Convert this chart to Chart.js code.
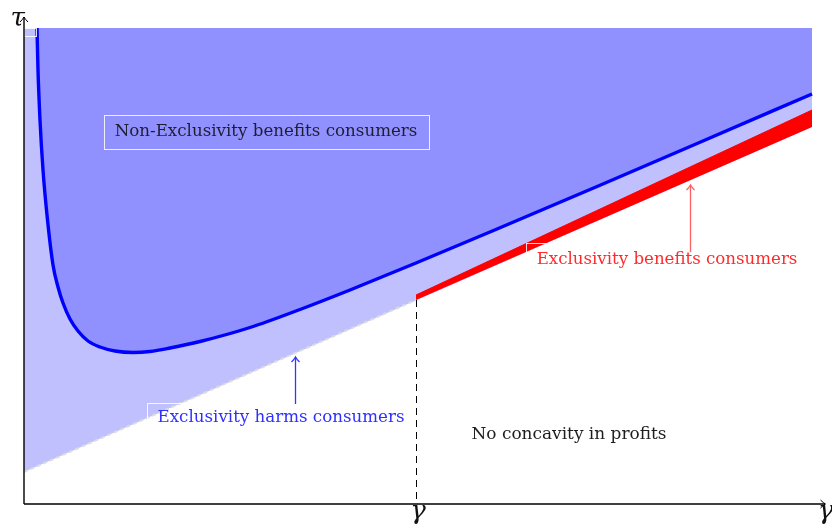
<!DOCTYPE html>
<html>
<head>
<meta charset="utf-8">
<script src="https://cdn.jsdelivr.net/npm/chart.js@4/dist/chart.umd.min.js"></script>
<style>
html,body{margin:0;padding:0;background:#fff;}
#wrap{width:832px;height:528px;}
</style>
</head>
<body>
<div id="wrap"><canvas id="c" width="832" height="528"></canvas></div>
<script>
// ---- axis ranges (data units) ----
const xMax = 8.0;
const yMax = 4.9;
const shadeTop = 4.76;     // upper edge of shaded area
const shadeRight = 7.88;   // right edge of shaded area
const gammaBar = 3.92;     // position of the threshold γ on the horizontal axis

// ---- boundary of the "no concavity" region (straight line) ----
const lowerLineX = [0, 7.88];
const lowerLineY = [0.32, 3.77];

// ---- red band (Exclusivity benefits consumers) ----
const redLowerX = [3.92, 7.88];
const redLowerY = [2.04, 3.77];
const redUpperX = [3.92, 7.88];
const redUpperY = [2.09, 3.94];

// ---- blue boundary curve ----
const curveX = [0.13, 0.14, 0.16, 0.19, 0.23, 0.29, 0.34, 0.39, 0.46, 0.54, 0.64, 0.76, 0.91, 1.09, 1.26, 1.46, 1.76, 2.26, 2.76, 3.26, 3.92, 4.76, 5.76, 6.76, 7.88];
const curveY = [4.76, 4.34, 3.84, 3.34, 2.89, 2.39, 2.17, 2.01, 1.85, 1.73, 1.63, 1.57, 1.53, 1.515, 1.525, 1.56, 1.625, 1.765, 1.945, 2.14, 2.41, 2.763, 3.188, 3.618, 4.10];

// ---- annotation texts ----
const labelNonExcl = "Non-Exclusivity benefits consumers";
const labelHarms = "Exclusivity harms consumers";
const labelBenefits = "Exclusivity benefits consumers";
const labelNoConc = "No concavity in profits";
const axisLabelY = "τ";
const axisLabelX = "γ";
const tickLabelBar = "γ";

const pts = (xs, ys) => xs.map((x, i) => ({x: x, y: ys[i]}));

const datasets = [
  { // blue curve with dark-blue fill above
    data: pts(curveX, curveY),
    borderColor: '#0000ff', borderWidth: 3.4,
    backgroundColor: '#9090ff',
    fill: {value: shadeTop},
    cubicInterpolationMode: 'monotone',
    pointRadius: 0, order: 1
  },
  { // red band lower edge (fill target)
    data: pts(redLowerX, redLowerY),
    borderWidth: 0, borderColor: 'rgba(0,0,0,0)',
    fill: false, pointRadius: 0, order: 3
  },
  { // red band upper edge
    data: pts(redUpperX, redUpperY),
    borderWidth: 1, borderColor: '#ff0000',
    backgroundColor: '#ff0000',
    fill: 1, pointRadius: 0, order: 2
  },
  { // grey fringe along the boundary left of gammaBar
    data: pts([lowerLineX[0], redLowerX[0]], [lowerLineY[0], redLowerY[0]]),
    borderColor: '#dcdcdc', borderWidth: 2, borderDash: [4, 3],
    fill: false, pointRadius: 0, order: 4
  },
  { // light blue region
    data: pts(lowerLineX, lowerLineY),
    borderWidth: 0, borderColor: 'rgba(0,0,0,0)',
    backgroundColor: '#c0c0ff',
    fill: {value: shadeTop}, pointRadius: 0, order: 5
  }
];

function fitFont(ctx, text, width, family, style) {
  ctx.font = (style || '') + ' 20px ' + family;
  const w = ctx.measureText(text).width;
  const size = 20 * width / w;
  return (style || '') + ' ' + size.toFixed(2) + 'px ' + family;
}

function arrowHead(ctx, x, y, dir) {
  ctx.beginPath();
  if (dir === 'up') {
    ctx.moveTo(x - 4, y + 5); ctx.quadraticCurveTo(x - 1, y + 2, x, y);
    ctx.quadraticCurveTo(x + 1, y + 2, x + 4, y + 5);
  } else {
    ctx.moveTo(x - 5, y - 4); ctx.quadraticCurveTo(x - 2, y - 1, x, y);
    ctx.quadraticCurveTo(x - 2, y + 1, x - 5, y + 4);
  }
  ctx.stroke();
}

const decor = {
  id: 'decor',
  afterDatasetsDraw(chart) {
    const ctx = chart.ctx;
    const sx = chart.scales.x, sy = chart.scales.y;
    const X = v => sx.getPixelForValue(v);
    const Y = v => sy.getPixelForValue(v);
    ctx.save();

    // white frame boxes
    ctx.strokeStyle = 'rgba(255,255,255,0.85)';
    ctx.lineWidth = 1;
    const box = (x0, y0, x1, y1) => {
      ctx.strokeRect(Math.round(X(x0)) + 0.5, Math.round(Y(y0)) + 0.5,
        Math.round(X(x1) - X(x0)), Math.round(Y(y1) - Y(y0)));
    };
    box(0.80, 3.89, 4.05, 3.55);
    box(1.23, 1.01, 3.91, 0.71);
    box(5.02, 2.61, 7.84, 2.27);
    box(0.0, 4.76, 0.12, 4.68);

    // dashed vertical line at gammaBar
    ctx.strokeStyle = '#000';
    ctx.lineWidth = 1;
    ctx.setLineDash([7, 5]);
    ctx.beginPath();
    ctx.moveTo(Math.round(X(gammaBar)) + 0.5, Y(redLowerY[0]));
    ctx.lineTo(Math.round(X(gammaBar)) + 0.5, Y(0));
    ctx.stroke();
    ctx.setLineDash([]);

    // axes
    ctx.strokeStyle = '#000';
    ctx.lineWidth = 1.4;
    ctx.beginPath();
    ctx.moveTo(X(0), Y(0)); ctx.lineTo(X(xMax) + 1, Y(0));
    ctx.moveTo(X(0), Y(0)); ctx.lineTo(X(0), Y(4.87));
    ctx.stroke();
    ctx.lineWidth = 1;
    arrowHead(ctx, X(xMax) + 1.5, Y(0), 'right');
    arrowHead(ctx, X(0), Y(4.87), 'up');

    // axis labels
    ctx.fillStyle = '#111';
    ctx.textBaseline = 'alphabetic';
    ctx.font = 'italic 26px "DejaVu Serif"';
    ctx.textAlign = 'right';
    ctx.fillText(axisLabelY, X(0) + 1, Y(4.78));
    ctx.textAlign = 'center';
    ctx.fillText(tickLabelBar, X(gammaBar) + 2, Y(0) + 15);
    ctx.textAlign = 'left';
    ctx.fillText(axisLabelX, X(xMax) - 6, Y(0) + 15);

    // annotation arrows
    ctx.lineWidth = 1.3;
    ctx.strokeStyle = '#3535ff';
    ctx.beginPath();
    ctx.moveTo(Math.round(X(2.71)) + 0.5, Y(1.00));
    ctx.lineTo(Math.round(X(2.71)) + 0.5, Y(1.47));
    ctx.stroke();
    arrowHead(ctx, Math.round(X(2.71)) + 0.5, Y(1.47), 'up');
    ctx.strokeStyle = '#ff6060';
    ctx.beginPath();
    ctx.moveTo(Math.round(X(6.66)) + 0.5, Y(2.52));
    ctx.lineTo(Math.round(X(6.66)) + 0.5, Y(3.19));
    ctx.stroke();
    arrowHead(ctx, Math.round(X(6.66)) + 0.5, Y(3.19), 'up');

    // annotation texts
    ctx.textAlign = 'center';
    ctx.textBaseline = 'middle';
    const fam = '"DejaVu Serif"';
    ctx.fillStyle = '#1e1e30';
    ctx.font = fitFont(ctx, labelNonExcl, 303, fam);
    ctx.fillText(labelNonExcl, X(2.42), Y(3.72));
    ctx.fillStyle = '#2f2fff';
    ctx.font = fitFont(ctx, labelHarms, 247, fam);
    ctx.fillText(labelHarms, X(2.57), Y(0.86));
    ctx.fillStyle = '#ff2a2a';
    ctx.font = fitFont(ctx, labelBenefits, 261, fam);
    ctx.fillText(labelBenefits, X(6.43), Y(2.44));
    ctx.fillStyle = '#1e1e1e';
    ctx.font = fitFont(ctx, labelNoConc, 195, fam);
    ctx.fillText(labelNoConc, X(5.45), Y(0.69));

    ctx.restore();
  }
};

new Chart(document.getElementById('c'), {
  type: 'line',
  data: { datasets: datasets },
  options: {
    responsive: false,
    animation: false,
    layout: { padding: { left: 24, right: 8, top: 14, bottom: 24 } },
    scales: {
      x: { type: 'linear', min: 0, max: xMax, display: false },
      y: { type: 'linear', min: 0, max: yMax, display: false }
    },
    plugins: { legend: { display: false }, tooltip: { enabled: false } },
    elements: { line: { tension: 0 } }
  },
  plugins: [decor]
});
</script>
</body>
</html>
